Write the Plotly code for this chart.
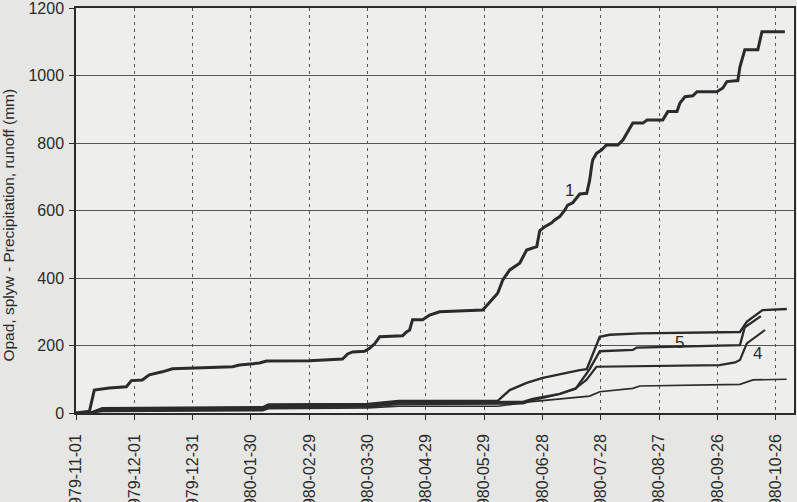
import pandas as pd
import plotly.graph_objects as go

BASE = pd.Timestamp("1979-11-01")

# Series 1: cumulative precipitation (days after 1979-11-01, mm)
p_day = [0, 6.0, 6.9, 7.9, 9.4, 17.1, 25.9, 28.5, 34.1, 37.7, 40.3, 44.4, 49.6, 80.5, 84.1, 94.4,
         98.0, 120.1, 137.1, 139.7, 142.3, 148.4, 151.0, 153.6, 156.2, 168.0, 170.0, 171.6, 173.1,
         178.3, 181.9, 187.0, 209.2, 212.8, 216.9, 219.5, 223.1, 228.2, 231.8, 237.0, 238.5, 241.1,
         244.5, 246.2, 248.8, 251.4, 252.9, 255.5, 258.1, 259.1, 262.7, 264.2, 265.3, 265.8, 267.8,
         270.3, 272.8, 278.7, 281.3, 286.4, 291.6, 293.7, 301.8, 304.4, 309.1, 310.6, 313.2, 317.3,
         319.4, 329.6, 332.7, 334.8, 340.4, 341.5, 344.0, 350.7, 352.8, 364.6]
p_val = [0, 3, 5, 30, 68, 74, 78, 96, 98, 113, 116, 122, 131, 137, 142, 148,
         154, 155, 160, 175, 181, 183, 192, 205, 226, 229, 240, 246, 276,
         276, 290, 300, 305, 330, 355, 394, 424, 444, 483, 493, 540, 552,
         563, 572, 582, 601, 616, 623, 641, 649, 651, 690, 735, 750, 770,
         779, 794, 794, 809, 859, 859, 868, 868, 893, 893, 918, 937, 940,
         952, 952, 963, 982, 985, 1026, 1076, 1076, 1130, 1130]

# Runoff series (cumulative, mm)
a_day = [0, 7, 13.5, 96, 99, 150, 166, 216.9, 223.1, 231.8, 240.1, 247.3, 252.4, 259.1, 262.7,
         269.4, 274.5, 290.0, 341.5, 345.1, 353.1, 365.6]
a_val = [0, 0, 14, 17, 25, 27, 36, 36, 68, 89, 104, 113, 118, 127, 130,
         226, 232, 236, 240, 271, 305, 308]

b_day = [0, 7, 13.5, 96, 99, 150, 166, 216.9, 229.9, 234.9, 248.8, 257.0, 264.2, 269.4,
         286.4, 288.5, 341.5, 344.0, 352.3]
b_val = [0, 0, 11, 13, 21, 23, 31, 31, 33, 42, 57, 72, 130, 183,
         187, 194, 201, 254, 287]

c_day = [0, 7, 13.5, 96, 99, 150, 166, 216.9, 229.9, 234.9, 248.8, 257.0, 262.5, 267.7,
         286.4, 331.0, 339.0, 341.5, 345.0, 354.4]
c_val = [0, 0, 8, 10, 17, 19, 26, 26, 28, 38, 56, 73, 98, 137,
         139, 142, 150, 157, 206, 246]

d_day = [0, 7, 13.5, 96, 99, 150, 166, 216.9, 231.6, 264.2, 269.4, 286.4, 290.0, 341.5,
         348.2, 365.5]
d_val = [0, 0, 5, 7, 13, 15, 20, 20, 32, 50, 63, 73, 80, 85,
         98, 100]

# Curve labels
lab_text = ["1", "5", "4"]
lab_day = [254, 310.6, 350.7]
lab_val = [660, 210, 176]

Y_TITLE = "Opad, splyw - Precipitation, runoff (mm)"


def to_dates(days):
    return [BASE + pd.Timedelta(days=d) for d in days]


INK = "#2b2b2b"
FONT = "Liberation Sans, Arial"
fig = go.Figure()
series = [(p_day, p_val, 3.0), (a_day, a_val, 2.4), (b_day, b_val, 2.3),
          (c_day, c_val, 2.1), (d_day, d_val, 1.7)]
for dd, vv, w in series:
    fig.add_trace(go.Scatter(x=to_dates(dd), y=vv, mode="lines",
                             line=dict(color=INK, width=w), showlegend=False,
                             hoverinfo="skip"))

for t, dd, vv in zip(lab_text, lab_day, lab_val):
    fig.add_annotation(x=BASE + pd.Timedelta(days=dd), y=vv, text=t, showarrow=False,
                       font=dict(family=FONT, size=17, color=INK))

fig.add_annotation(xref="paper", yref="paper", x=-0.094, y=0.464, text=Y_TITLE,
                   textangle=-90, showarrow=False, xanchor="center", yanchor="middle",
                   font=dict(family=FONT, size=15.5, color=INK))

fig.update_layout(
    width=797, height=502,
    margin=dict(l=76, r=3, t=8, b=89, autoexpand=False),
    paper_bgcolor="#e6e6e4",
    plot_bgcolor="#eeeeec",
    font=dict(family=FONT, size=16, color=INK),
)
fig.update_xaxes(
    type="date",
    range=[BASE, BASE + pd.Timedelta(days=369.3)],
    tick0=BASE, dtick=30 * 86400000, tickformat="%Y-%m-%d", tickangle=-90,
    showgrid=True, gridcolor="#555555", gridwidth=1, griddash="3px,4px",
    showline=True, mirror=True, linecolor=INK, linewidth=1.5,
    ticks="outside", ticklen=5, tickcolor=INK, tickwidth=1.2,
    zeroline=False, automargin=False, ticklabeloverflow="allow",
    ticklabelstandoff=8,
    tickfont=dict(size=16, color=INK),
)
fig.update_yaxes(
    range=[0, 1200], tick0=0, dtick=200,
    showgrid=True, gridcolor="#555555", gridwidth=1.2,
    showline=True, mirror=True, linecolor=INK, linewidth=1.5,
    ticks="outside", ticklen=5, tickcolor=INK, tickwidth=1.2,
    zeroline=False, automargin=False, ticklabeloverflow="allow",
    ticklabelstandoff=2,
    tickfont=dict(size=16, color=INK),
)

fig.write_html("out.html", config={"displayModeBar": False},
               post_script="document.body.style.margin='0';document.body.style.overflow='hidden';")
